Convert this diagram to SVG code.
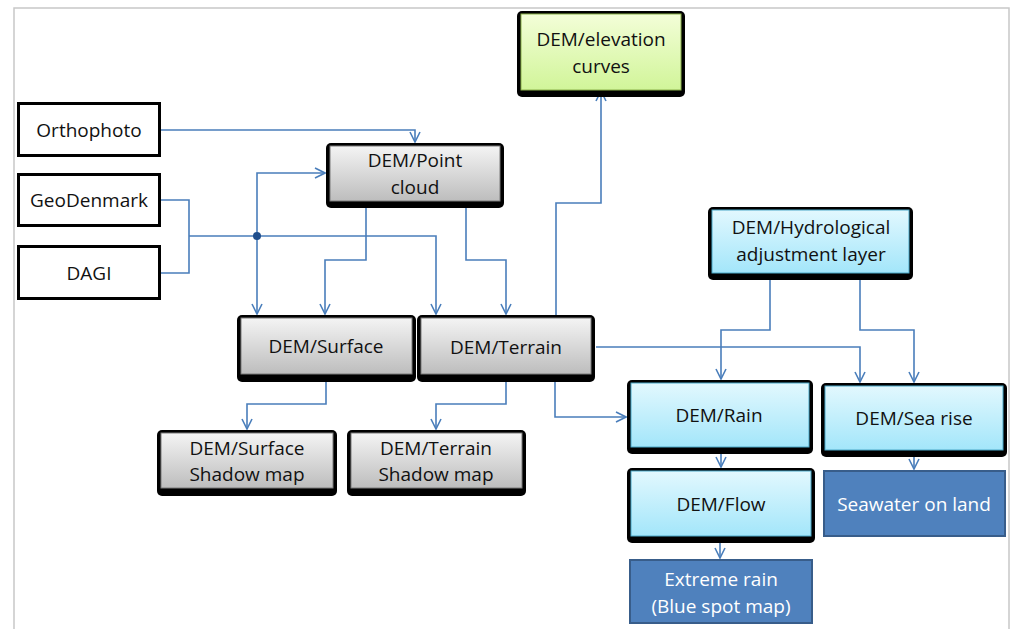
<svg xmlns="http://www.w3.org/2000/svg" width="1013" height="629" viewBox="0 0 1013 629">
<defs>
<linearGradient id="gGray" x1="0" y1="0" x2="0" y2="1"><stop offset="0" stop-color="#f4f4f4"/><stop offset="1" stop-color="#bdbdbd"/></linearGradient>
<linearGradient id="gCyan" x1="0" y1="0" x2="0" y2="1"><stop offset="0" stop-color="#e2f8fe"/><stop offset="1" stop-color="#a3e6fa"/></linearGradient>
<linearGradient id="gGreen" x1="0" y1="0" x2="0" y2="1"><stop offset="0" stop-color="#f3fed8"/><stop offset="1" stop-color="#d1f599"/></linearGradient>
<marker id="arr" viewBox="0 0 12 12" refX="11" refY="6" markerWidth="12" markerHeight="12" markerUnits="userSpaceOnUse" orient="auto">
<path d="M1,1 L11,6 L1,11" fill="none" stroke="#4a7ebb" stroke-width="1.6"/>
</marker>
<style>
text{font-family:"Open Sans","Liberation Sans",sans-serif;font-size:19px;fill:#111;text-anchor:middle}
.w{fill:#ffffff}
.plain{fill:#ffffff;stroke:#000;stroke-width:3}
.sh{fill:#000}
.gray{fill:url(#gGray);stroke:#7a7a7a;stroke-width:1}
.cyan{fill:url(#gCyan);stroke:#4aa8c8;stroke-width:1}
.green{fill:url(#gGreen);stroke:#8ab04a;stroke-width:1}
.dark{fill:#4f81bd;stroke:#385d8a;stroke-width:2}
.c{fill:none;stroke:#4a7ebb;stroke-width:1.6}
.ca{fill:none;stroke:#4a7ebb;stroke-width:1.6;marker-end:url(#arr)}
</style>
</defs>
<rect width="1013" height="629" fill="#fff"/>
<path d="M14,629 L14,8 L1009,8 L1009,629" fill="none" stroke="#c8c8c8" stroke-width="1.5"/>

<g id="connectors">
<path class="ca" d="M161,130 H415 V142"/>
<path class="c" d="M161,200 H189 V273 H161"/>
<path class="ca" d="M189,236 H436 V314"/>
<path class="ca" d="M257,236 V173 H325"/>
<path class="ca" d="M257,236 V314"/>
<circle cx="257" cy="236" r="4" fill="#1f4e8c"/>
<path class="ca" d="M366,207 V260 H325 V314"/>
<path class="ca" d="M466,207 V260 H506 V314"/>
<path class="ca" d="M556,315 V203 H601 V91"/>
<path class="ca" d="M326,382 V404 H247 V429"/>
<path class="ca" d="M506,382 V404 H436 V429"/>
<path class="ca" d="M555,382 V417 H626"/>
<path class="ca" d="M596,347 H860 V382"/>
<path class="ca" d="M770,280 V330 H721 V379"/>
<path class="ca" d="M860,280 V330 H914 V382"/>
<path class="ca" d="M721,454 V467"/>
<path class="ca" d="M914,457 V469"/>
<path class="ca" d="M720,543 V558"/>
</g>

<g id="orthophoto"><rect class="plain" x="18.5" y="103.5" width="141" height="52"/><text x="89" y="137">Orthophoto</text></g>
<g id="geodenmark"><rect class="plain" x="18.5" y="174.5" width="141" height="51"/><text x="89" y="207">GeoDenmark</text></g>
<g id="dagi"><rect class="plain" x="18.5" y="246.5" width="141" height="52"/><text x="89" y="280">DAGI</text></g>

<g id="pointcloud"><rect class="sh" x="326" y="143" width="178" height="65" rx="5"/><rect class="gray" x="330" y="146" width="170" height="55"/><text x="415" y="167">DEM/Point</text><text x="415" y="194">cloud</text></g>

<g id="elevation"><rect class="sh" x="517" y="11" width="168" height="86" rx="5"/><rect class="green" x="521" y="14" width="160" height="76"/><text x="601" y="46">DEM/elevation</text><text x="601" y="73">curves</text></g>

<g id="surface"><rect class="sh" x="237" y="315" width="179" height="67" rx="5"/><rect class="gray" x="241" y="318" width="171" height="56"/><text x="326" y="353">DEM/Surface</text></g>
<g id="terrain"><rect class="sh" x="417" y="315" width="178" height="67" rx="5"/><rect class="gray" x="421" y="318" width="170" height="56"/><text x="506" y="354">DEM/Terrain</text></g>

<g id="surfaceshadow"><rect class="sh" x="157" y="430" width="180" height="66" rx="5"/><rect class="gray" x="161" y="433" width="172" height="55"/><text x="247" y="455">DEM/Surface</text><text x="247" y="481">Shadow map</text></g>
<g id="terrainshadow"><rect class="sh" x="347" y="430" width="179" height="66" rx="5"/><rect class="gray" x="351" y="433" width="171" height="55"/><text x="436" y="455">DEM/Terrain</text><text x="436" y="481">Shadow map</text></g>

<g id="hydro"><rect class="sh" x="708" y="207" width="205" height="73" rx="5"/><rect class="cyan" x="712" y="210" width="197" height="63"/><text x="811" y="234">DEM/Hydrological</text><text x="811" y="261">adjustment layer</text></g>

<g id="rain"><rect class="sh" x="627" y="380" width="186" height="74" rx="5"/><rect class="cyan" x="631" y="383" width="178" height="64"/><text x="719" y="422">DEM/Rain</text></g>
<g id="searise"><rect class="sh" x="821" y="383" width="186" height="74" rx="5"/><rect class="cyan" x="825" y="386" width="178" height="64"/><text x="914" y="425">DEM/Sea rise</text></g>
<g id="flow"><rect class="sh" x="627" y="468" width="188" height="75" rx="5"/><rect class="cyan" x="631" y="471" width="180" height="65"/><text x="721" y="511">DEM/Flow</text></g>

<g id="seawater"><rect class="dark" x="824" y="471" width="181" height="65"/><text class="w" x="914" y="511">Seawater on land</text></g>
<g id="extremerain"><rect class="dark" x="630" y="560" width="182" height="63"/><text class="w" x="721" y="586">Extreme rain</text><text class="w" x="721" y="613">(Blue spot map)</text></g>
</svg>
